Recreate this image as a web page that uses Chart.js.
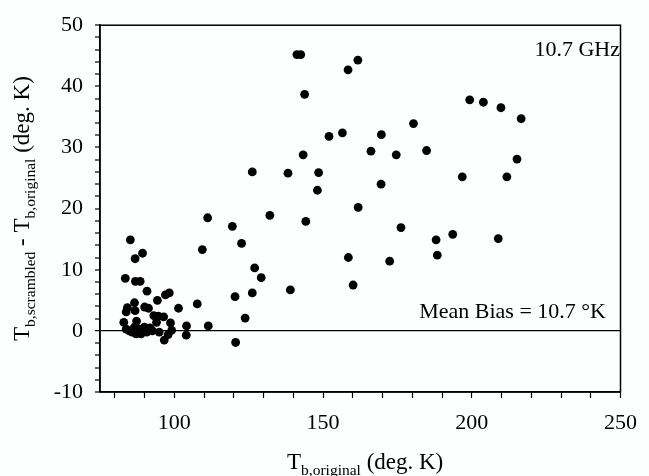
<!DOCTYPE html>
<html>
<head>
<meta charset="utf-8">
<script src="https://cdn.jsdelivr.net/npm/chart.js@4/dist/chart.umd.min.js"></script>
<style>
html,body{margin:0;padding:0;background:#fdfefe;}
#wrap{position:relative;width:649px;height:476px;}
</style>
</head>
<body>
<div id="wrap"><canvas id="c" width="649" height="476"></canvas></div>
<script>
// Tb,original (deg. K)
const xValues = [
  85.2, 89.3, 86.8, 83.5, 86.9, 88.5, 90.8, 94.3, 97.0, 98.3,
  107.7, 101.4, 109.4, 84.2, 83.8, 86.6, 86.8, 90.0, 91.3, 93.1,
  94.6, 96.4, 94.0, 98.7, 104.1, 111.4, 83.0, 96.6, 104.0, 97.9,
  83.8, 84.9, 86.6, 87.3, 88.2, 88.8, 89.9, 90.7, 91.8, 92.6,
  94.9, 99.1, 87.1, 85.8,
  111.2, 119.5, 120.6, 120.4, 122.6, 123.8, 126.2, 127.0, 129.2, 126.2,
  132.1, 138.2, 139.0, 141.2, 142.5, 143.8, 143.3, 144.2, 148.5, 148.1,
  152.0, 156.5, 158.4, 161.7, 158.5, 160.1, 161.8, 166.1, 169.6, 169.5,
  172.4, 174.6, 176.2, 180.4, 184.8, 188.0, 188.4, 193.6, 196.8, 199.3,
  203.9, 208.9, 209.8, 211.8, 215.2, 216.6
];
// Tb,scrambled - Tb,original (deg. K)
const yValues = [
  14.9, 12.7, 11.8, 8.6, 8.1, 8.1, 6.5, 5.0, 5.9, 6.2,
  4.4, 3.7, 13.3, 3.8, 3.1, 4.6, 3.3, 3.9, 3.7, 2.5,
  2.4, 2.3, 1.4, 1.3, 0.8, 0.8, 1.4, -1.5, -0.7, -0.6,
  0.3, 0.0, 0.6, 1.6, 0.3, -0.5, 0.6, -0.2, 0.5, 0.0,
  -0.2, 0.1, -0.5, -0.2,
  18.5, 17.1, -1.9, 5.6, 14.3, 2.1, 6.2, 10.3, 8.7, 26.0,
  18.9, 25.8, 6.7, 45.2, 45.2, 38.7, 28.8, 17.9, 25.9, 23.0,
  31.8, 32.4, 42.7, 44.3, 12.0, 7.5, 20.2, 29.4, 32.1, 24.0,
  11.4, 28.8, 16.9, 33.9, 29.5, 14.9, 12.4, 15.8, 25.2, 37.8,
  37.4, 15.1, 36.5, 25.2, 28.1, 34.7
];
const xTickLabels = [100, 150, 200, 250];
const yTickLabels = [-10, 0, 10, 20, 30, 40, 50];
const frequencyLabel = "10.7 GHz";
const biasLabel = "Mean Bias = 10.7 \u00B0K";

const SERIF = '"Liberation Serif", "DejaVu Serif", serif';
const FS = 22, TFS = 23, SUB = 15.5;

const points = xValues.map((x, i) => ({x: x, y: yValues[i]}));

function drawRuns(ctx, runs, x, y) {
  let cx = x;
  runs.forEach(r => {
    ctx.font = (r.sub ? SUB : TFS) + 'px ' + SERIF;
    ctx.fillText(r.t, cx, y + (r.sub ? 6 : 0));
    cx += ctx.measureText(r.t).width;
  });
}

const decor = {
  id: 'decor',
  afterDraw(chart) {
    const {ctx, chartArea: a} = chart;
    ctx.save();
    ctx.strokeStyle = '#000';
    ctx.lineWidth = 1.5;
    ctx.strokeRect(a.left, a.top, a.right - a.left, a.bottom - a.top);
    ctx.fillStyle = '#000';
    ctx.textBaseline = 'alphabetic';
    ctx.font = FS + 'px ' + SERIF;
    ctx.textAlign = 'right';
    ctx.fillText(frequencyLabel, 620, 56);
    ctx.fillText(biasLabel, 606, 318);
    ctx.textAlign = 'left';
    // x axis title
    drawRuns(ctx, [{t:'T'},{t:'b,original',sub:true},{t:' (deg. K)'}], 287, 469);
    // y axis title
    ctx.translate(29, 341);
    ctx.rotate(-Math.PI / 2);
    drawRuns(ctx, [{t:'T'},{t:'b,scrambled',sub:true},{t:' - T'},{t:'b,original',sub:true},{t:' (deg. K)'}], 0, 0);
    ctx.restore();
  }
};

new Chart(document.getElementById('c'), {
  type: 'scatter',
  data: {
    datasets: [{
      data: points,
      backgroundColor: '#000',
      borderColor: '#000',
      pointRadius: 4.4,
      pointHoverRadius: 4.4,
      borderWidth: 0
    }]
  },
  options: {
    responsive: false,
    animation: false,
    devicePixelRatio: 1,
    layout: {padding: {left: 0, right: 19, top: 21, bottom: 0}},
    plugins: {legend: {display: false}, tooltip: {enabled: false}},
    scales: {
      x: {
        type: 'linear', min: 75, max: 250,
        afterFit(s) { s.height = 476 - 392; },
        border: {display: true, color: '#000', width: 1.5},
        grid: {drawOnChartArea: false, drawTicks: true, tickLength: 6, tickColor: '#000', tickWidth: 1.2},
        ticks: {
          stepSize: 10, includeBounds: false, padding: 12, color: '#000', maxRotation: 0, autoSkip: false,
          font: {family: SERIF, size: FS},
          callback: v => xTickLabels.includes(v) ? String(v) : ''
        }
      },
      y: {
        type: 'linear', min: -10, max: 50,
        afterFit(s) { s.width = 100; },
        border: {display: true, color: '#000', width: 1.5},
        grid: {
          drawOnChartArea: true, drawTicks: true, tickLength: 5, tickWidth: 1.2,
          tickColor: '#000',
          color: c => (c.tick && c.tick.value === 0) ? '#000' : 'rgba(0,0,0,0)',
          lineWidth: c => (c.tick && c.tick.value === 0) ? 1.3 : 0
        },
        ticks: {
          stepSize: 2, padding: 12, color: '#000', autoSkip: false,
          font: {family: SERIF, size: FS},
          callback: v => yTickLabels.includes(v) ? String(v) : ''
        }
      }
    }
  },
  plugins: [decor]
});
</script>
</body>
</html>
